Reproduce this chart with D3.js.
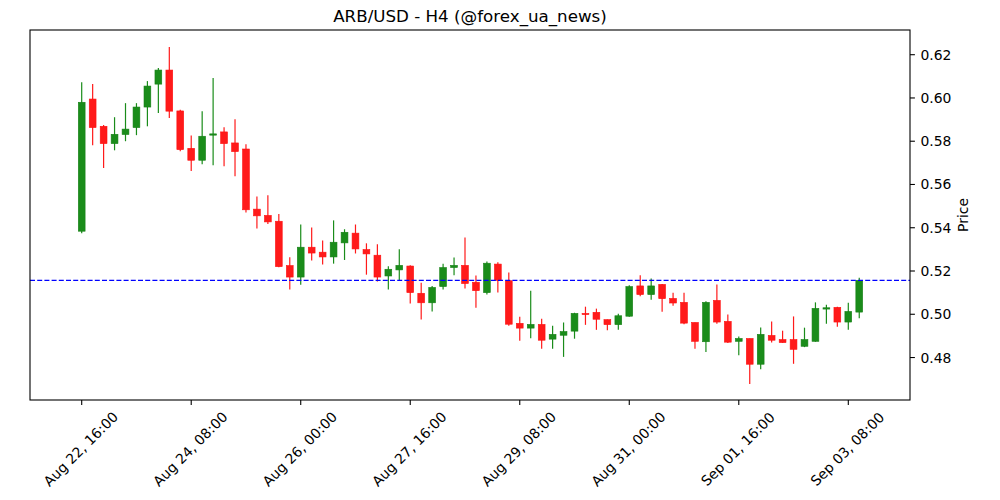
<!DOCTYPE html>
<html>
<head>
<meta charset="utf-8">
<script src="https://cdn.jsdelivr.net/npm/d3@7/dist/d3.min.js"></script>
<style>
  html, body { margin: 0; padding: 0; background: #fff; }
  svg { display: block; font-family: "DejaVu Sans", sans-serif; }
</style>
</head>
<body>
<svg id="chart" width="1000" height="500"></svg>
<script>
// ---- data (H4 candles, starting Aug 22 16:00) ----
const startTime = "2023-08-22T16:00:00Z";
const opens  = [0.5384,0.5995,0.5869,0.5789,0.5831,0.5863,0.5958,0.6064,0.6129,0.5940,
                0.5767,0.5712,0.5828,0.5843,0.5792,0.5764,0.5486,0.5457,0.5430,0.5225,
                0.5172,0.5310,0.5287,0.5265,0.5330,0.5375,0.5299,0.5273,0.5177,0.5205,
                0.5223,0.5097,0.5053,0.5128,0.5216,0.5226,0.5148,0.5100,0.5232,0.5155,
                0.4958,0.4936,0.4953,0.4885,0.4903,0.4922,0.5004,0.5009,0.4975,0.4952,
                0.4991,0.5131,0.5091,0.5138,0.5073,0.5055,0.4962,0.4873,0.5064,0.4967,
                0.4875,0.4888,0.4769,0.4902,0.4883,0.4883,0.4852,0.4875,0.5024,0.5032,
                0.4964,0.5010];
const highs  = [0.6073,0.6064,0.5875,0.5911,0.5976,0.5976,0.6078,0.6138,0.6236,0.5946,
                0.5826,0.5939,0.6092,0.5865,0.5902,0.5786,0.5545,0.5550,0.5463,0.5264,
                0.5415,0.5401,0.5341,0.5434,0.5393,0.5415,0.5328,0.5324,0.5222,0.5301,
                0.5227,0.5146,0.5131,0.5233,0.5262,0.5355,0.5179,0.5244,0.5240,0.5193,
                0.4989,0.5109,0.4979,0.4947,0.4962,0.5007,0.5035,0.5026,0.4976,0.5002,
                0.5134,0.5180,0.5165,0.5140,0.5100,0.5100,0.4962,0.5060,0.5138,0.4999,
                0.4897,0.4888,0.4939,0.4967,0.4924,0.4990,0.4938,0.5055,0.5044,0.5035,
                0.5053,0.5169];
const lows   = [0.5375,0.5781,0.5676,0.5758,0.5800,0.5828,0.5869,0.5931,0.5907,0.5754,
                0.5662,0.5693,0.5689,0.5684,0.5638,0.5471,0.5397,0.5417,0.5217,0.5114,
                0.5137,0.5248,0.5230,0.5234,0.5251,0.5281,0.5183,0.5152,0.5114,0.5156,
                0.5050,0.4976,0.5013,0.5115,0.5180,0.5119,0.5030,0.5091,0.5101,0.4947,
                0.4877,0.4889,0.4840,0.4840,0.4803,0.4887,0.4951,0.4928,0.4926,0.4928,
                0.4988,0.5083,0.5067,0.5012,0.5039,0.4954,0.4840,0.4826,0.4956,0.4867,
                0.4811,0.4678,0.4746,0.4869,0.4868,0.4771,0.4848,0.4873,0.4956,0.4942,
                0.4928,0.4981];
const closes = [0.5980,0.5863,0.5789,0.5832,0.5856,0.5958,0.6055,0.6129,0.5939,0.5761,
                0.5712,0.5823,0.5834,0.5789,0.5752,0.5483,0.5455,0.5427,0.5220,0.5172,
                0.5310,0.5283,0.5265,0.5333,0.5379,0.5302,0.5279,0.5172,0.5208,0.5226,
                0.5100,0.5053,0.5124,0.5216,0.5226,0.5142,0.5109,0.5236,0.5157,0.4954,
                0.4936,0.4953,0.4880,0.4907,0.4920,0.5004,0.5001,0.4977,0.4952,0.4993,
                0.5128,0.5091,0.5131,0.5072,0.5052,0.4959,0.4875,0.5055,0.4964,0.4871,
                0.4888,0.4769,0.4907,0.4880,0.4869,0.4838,0.4883,0.5027,0.5030,0.4964,
                0.5013,0.5157];
const xTicks = ["2023-08-22T16:00:00Z","2023-08-24T08:00:00Z","2023-08-26T00:00:00Z",
                "2023-08-27T16:00:00Z","2023-08-29T08:00:00Z","2023-08-31T00:00:00Z",
                "2023-09-01T16:00:00Z","2023-09-03T08:00:00Z"];
const yTicks = [0.48, 0.50, 0.52, 0.54, 0.56, 0.58, 0.60, 0.62];
const lastPrice = 0.5157;
const titleText = "ARB/USD - H4 (@forex_ua_news)";
const yLabel = "Price";

// ---- layout ----
const L = 30, R = 910, T = 30, B = 400;
const svg = d3.select("#chart");

const t0 = new Date(startTime);
const candles = opens.map((o, i) => ({
  t: d3.utcHour.offset(t0, 4 * i), o, h: highs[i], l: lows[i], c: closes[i]
}));

const tick0 = new Date(xTicks[0]), tick7 = new Date(xTicks[7]);
const pxPerMs = (848.3 - 81.7) / (tick7 - tick0);
const x = d3.scaleUtc()
  .domain([new Date(+tick0 - (81.7 - L) / pxPerMs), new Date(+tick7 + (R - 848.3) / pxPerMs)])
  .range([L, R]);
const y = d3.scaleLinear()
  .domain([0.62 - (B - 54.7) / 2163, 0.62 + (54.7 - T) / 2163])
  .range([B, T]);

const step = x(d3.utcHour.offset(t0, 4)) - x(t0);
const bw = step * 0.62;

const green = "#1a8c1a", red = "#ff1a1a";

const g = svg.append("g");
const cg = g.selectAll("g.candle").data(candles).enter().append("g");
cg.append("line")
  .attr("x1", d => x(d.t)).attr("x2", d => x(d.t))
  .attr("y1", d => y(d.h)).attr("y2", d => y(d.l))
  .attr("stroke", d => d.c >= d.o ? green : red)
  .attr("stroke-width", 1.2);
cg.append("rect")
  .attr("x", d => x(d.t) - bw / 2)
  .attr("width", bw)
  .attr("y", d => y(Math.max(d.o, d.c)))
  .attr("height", d => Math.max(1.2, Math.abs(y(d.o) - y(d.c))))
  .attr("fill", d => d.c >= d.o ? green : red)
  .attr("stroke", d => d.c >= d.o ? "#168016" : "#ff1010")
  .attr("stroke-width", 0.6);

// last price line
svg.append("line")
  .attr("x1", L).attr("x2", R)
  .attr("y1", y(lastPrice)).attr("y2", y(lastPrice))
  .attr("stroke", "blue").attr("stroke-width", 1.3)
  .attr("stroke-dasharray", "5,2.2");

// frame
svg.append("rect").attr("x", L).attr("y", T).attr("width", R - L).attr("height", B - T)
  .attr("fill", "none").attr("stroke", "#000").attr("stroke-width", 1.1);

// x axis
const fmt = d3.utcFormat("%b %d, %H:%M");
const xg = svg.append("g");
xTicks.forEach(s => {
  const d = new Date(s), px = x(d);
  xg.append("line").attr("x1", px).attr("x2", px).attr("y1", B).attr("y2", B + 4.9)
    .attr("stroke", "#000").attr("stroke-width", 1.1);
  xg.append("text")
    .attr("transform", `translate(${px - 1},${449}) rotate(-45)`)
    .attr("text-anchor", "middle").attr("dominant-baseline", "central")
    .attr("font-size", 13.9).attr("fill", "#000")
    .text(fmt(d));
});

// y axis (right)
const yg = svg.append("g");
yTicks.forEach(v => {
  const py = y(v);
  yg.append("line").attr("x1", R).attr("x2", R + 4.9).attr("y1", py).attr("y2", py)
    .attr("stroke", "#000").attr("stroke-width", 1.1);
  yg.append("text").attr("x", R + 10.5).attr("y", py)
    .attr("dominant-baseline", "central").attr("font-size", 13.9).attr("fill", "#000")
    .text(d3.format(".2f")(v));
});
svg.append("text")
  .attr("transform", `translate(963,${(T + B) / 2}) rotate(-90)`)
  .attr("text-anchor", "middle").attr("dominant-baseline", "central")
  .attr("font-size", 13.9).text(yLabel);

// title
svg.append("text").attr("x", (L + R) / 2).attr("y", 22)
  .attr("text-anchor", "middle").attr("font-size", 16.7).text(titleText);
</script>
</body>
</html>
